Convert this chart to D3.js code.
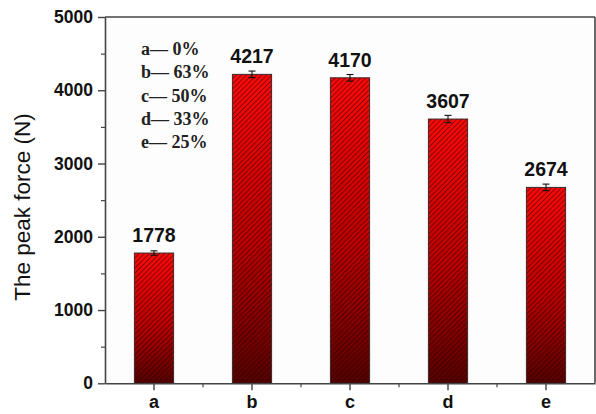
<!DOCTYPE html>
<html>
<head>
<meta charset="utf-8">
<script src="https://cdn.jsdelivr.net/npm/d3@7/dist/d3.min.js"></script>
<style>
  html, body { margin: 0; padding: 0; background: #fff; }
  svg { display: block; }
  .sans { font-family: "Liberation Sans", Arial, sans-serif; }
  .serif { font-family: "Liberation Serif", "Times New Roman", serif; }
</style>
</head>
<body>
<svg id="chart" width="596" height="414"></svg>
<script>
// Peak force per sample group
const categories = ["a", "b", "c", "d", "e"];
const peakForce = [1778, 4217, 4170, 3607, 2674];
const forceError = [30, 45, 45, 50, 45];
const legendLines = ["a\u2014 0%", "b\u2014 63%", "c\u2014 50%", "d\u2014 33%", "e\u2014 25%"];
const yTicks = [0, 1000, 2000, 3000, 4000, 5000];
const yMinorTicks = [500, 1500, 2500, 3500, 4500];

const W = 596, H = 414;
const margin = { left: 105, right: 1, top: 17, bottom: 30.7 };
const svg = d3.select("#chart");

const x = d3.scaleBand()
  .domain(categories)
  .range([margin.left, W - margin.right])
  .paddingInner(0.6)
  .paddingOuter(0.3);

const y = d3.scaleLinear()
  .domain([0, 5000])
  .range([H - margin.bottom, margin.top]);

const defs = svg.append("defs");

// red-to-maroon fill per bar
const grad = defs.append("linearGradient")
  .attr("id", "barGrad")
  .attr("x1", 0).attr("y1", 0).attr("x2", 0).attr("y2", 1);
grad.append("stop").attr("offset", "0%").attr("stop-color", "#ff0a0a");
grad.append("stop").attr("offset", "55%").attr("stop-color", "#bc0000");
grad.append("stop").attr("offset", "100%").attr("stop-color", "#550000");

// diagonal hatching laid over the gradient
const hatch = defs.append("pattern")
  .attr("id", "hatch")
  .attr("patternUnits", "userSpaceOnUse")
  .attr("width", 3.6).attr("height", 3.6)
  .attr("patternTransform", "rotate(45)");
hatch.append("line")
  .attr("x1", 0.5).attr("y1", 0).attr("x2", 0.5).attr("y2", 3.6)
  .attr("stroke", "#200000").attr("stroke-opacity", 0.5).attr("stroke-width", 1.1);

// plot background
svg.append("rect")
  .attr("x", margin.left).attr("y", margin.top)
  .attr("width", W - margin.right - margin.left)
  .attr("height", y(0) - margin.top)
  .attr("fill", "#fdfdfd");

// bars
const bars = svg.append("g");
bars.selectAll("rect.fill")
  .data(peakForce)
  .join("rect")
  .attr("class", "fill")
  .attr("x", (d, i) => x(categories[i]))
  .attr("y", d => y(d))
  .attr("width", x.bandwidth())
  .attr("height", d => y(0) - y(d))
  .attr("fill", "url(#barGrad)");
bars.selectAll("rect.hatch")
  .data(peakForce)
  .join("rect")
  .attr("class", "hatch")
  .attr("x", (d, i) => x(categories[i]))
  .attr("y", d => y(d))
  .attr("width", x.bandwidth())
  .attr("height", d => y(0) - y(d))
  .attr("fill", "url(#hatch)")
  .attr("stroke", "#3a2a2a")
  .attr("stroke-width", 1);

// error bars
const err = svg.append("g").attr("stroke", "#111").attr("stroke-width", 1.1);
peakForce.forEach((v, i) => {
  const cx = x(categories[i]) + x.bandwidth() / 2;
  const hi = y(v + forceError[i]), lo = y(v - forceError[i]);
  err.append("line").attr("x1", cx).attr("x2", cx).attr("y1", hi).attr("y2", lo);
  err.append("line").attr("x1", cx - 3.5).attr("x2", cx + 3.5).attr("y1", hi).attr("y2", hi);
  err.append("line").attr("x1", cx - 3.5).attr("x2", cx + 3.5).attr("y1", lo).attr("y2", lo);
});

// value labels
svg.append("g").selectAll("text")
  .data(peakForce)
  .join("text")
  .attr("class", "sans")
  .attr("x", (d, i) => x(categories[i]) + x.bandwidth() / 2)
  .attr("y", d => y(d) - 11)
  .attr("text-anchor", "middle")
  .attr("font-size", 19.5)
  .attr("font-weight", "bold")
  .attr("fill", "#111")
  .text(d => d);

// frame (top and right)
const frame = svg.append("g").attr("stroke", "#444").attr("stroke-width", 1.6).attr("fill", "none");
frame.append("line").attr("x1", margin.left).attr("x2", W - margin.right)
  .attr("y1", margin.top).attr("y2", margin.top);
frame.append("line").attr("x1", W - margin.right).attr("x2", W - margin.right)
  .attr("y1", margin.top).attr("y2", y(0));

// y axis
const yAxis = svg.append("g")
  .attr("transform", `translate(${margin.left},0)`)
  .call(d3.axisLeft(y).tickValues(yTicks).tickFormat(d3.format("d"))
    .tickSize(7).tickPadding(5).tickSizeOuter(0));
yAxis.selectAll("text").attr("class", "sans").attr("font-size", 17.5)
  .attr("font-weight", "bold").attr("fill", "#111");
yAxis.select(".domain").attr("stroke", "#444").attr("stroke-width", 1.6);
yAxis.selectAll(".tick line").attr("stroke", "#444").attr("stroke-width", 1.4);
svg.append("g")
  .attr("transform", `translate(${margin.left},0)`)
  .call(d3.axisLeft(y).tickValues(yMinorTicks).tickSize(4).tickFormat("").tickSizeOuter(0))
  .call(g => g.select(".domain").remove())
  .selectAll(".tick line").attr("stroke", "#444").attr("stroke-width", 1.2);

// x axis
const xAxis = svg.append("g")
  .attr("transform", `translate(0,${y(0)})`)
  .call(d3.axisBottom(x).tickSize(7).tickPadding(5).tickSizeOuter(0));
xAxis.selectAll("text").attr("class", "sans").attr("font-size", 18)
  .attr("font-weight", "bold").attr("fill", "#111");
xAxis.select(".domain").attr("stroke", "#444").attr("stroke-width", 1.6);
xAxis.selectAll(".tick line").attr("stroke", "#444").attr("stroke-width", 1.4);
// minor ticks between categories
const step = x.step();
svg.append("g").selectAll("line")
  .data(categories.slice(0, -1))
  .join("line")
  .attr("x1", d => x(d) + x.bandwidth() / 2 + step / 2)
  .attr("x2", d => x(d) + x.bandwidth() / 2 + step / 2)
  .attr("y1", y(0)).attr("y2", y(0) + 4)
  .attr("stroke", "#444").attr("stroke-width", 1.2);

// y axis title
svg.append("text")
  .attr("class", "sans")
  .attr("transform", `translate(30,207) rotate(-90)`)
  .attr("text-anchor", "middle")
  .attr("font-size", 22.5)
  .attr("fill", "#111")
  .text("The peak force (N)");

// legend
svg.append("g").selectAll("text")
  .data(legendLines)
  .join("text")
  .attr("class", "serif")
  .attr("x", 141)
  .attr("y", (d, i) => 55 + i * 23.3)
  .attr("font-size", 18)
  .attr("font-weight", "bold")
  .attr("fill", "#222")
  .text(d => d);
</script>
</body>
</html>
